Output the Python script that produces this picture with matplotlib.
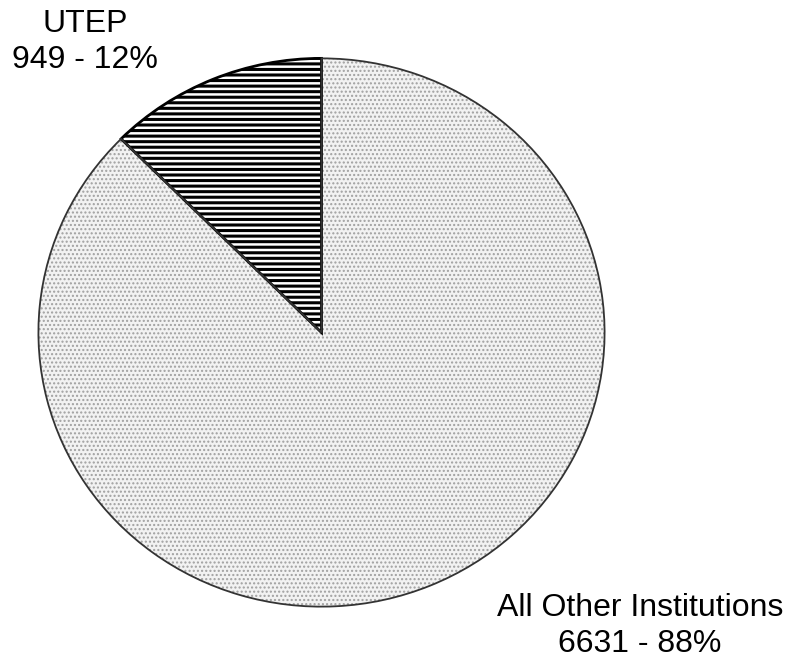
import matplotlib.pyplot as plt

# enrollment share
labels = ['UTEP', 'All Other Institutions']
counts = [949, 6631]
pcts = [12, 88]

plt.rcParams['font.family'] = ['Liberation Sans', 'DejaVu Sans']

fig = plt.figure(figsize=(7.9, 6.6), dpi=100)
ax = fig.add_axes([37 / 790, 52 / 660, 569 / 790, 551 / 660])

# fill layers: hatch colour comes from edgecolor, hatch width read at creation
with plt.rc_context({'hatch.linewidth': 2.2}):
    w1, _ = ax.pie(counts, startangle=90, counterclock=True, colors=['white', 'none'])
w1[0].set_hatch('---')
w1[0].set_edgecolor('black')
w1[0].set_linewidth(0)
w1[1].set_visible(False)

with plt.rc_context({'hatch.linewidth': 1.0}):
    w2, _ = ax.pie(counts, startangle=90, counterclock=True, colors=['none', '#f2f2f2'])
w2[0].set_visible(False)
w2[1].set_hatch('....')
w2[1].set_edgecolor('#a0a0a0')
w2[1].set_linewidth(0)

# outline layer
outl, _ = ax.pie(counts, startangle=90, counterclock=True,
                 wedgeprops=dict(fill=False, edgecolor='#333333', linewidth=1.3))
outl[0].set_edgecolor('black')
outl[0].set_linewidth(2)

ax.set_aspect('auto')
ax.set_xlim(-1.005, 1.005)
ax.set_ylim(-1.005, 1.005)

fig.text(85 / 790, 1 - 42 / 660, '%s\n%d - %d%%' % (labels[0], counts[0], pcts[0]),
         ha='center', va='center', fontsize=23, linespacing=1.25)
fig.text(640 / 790, 1 - 626 / 660, '%s\n%d - %d%%' % (labels[1], counts[1], pcts[1]),
         ha='center', va='center', fontsize=23, linespacing=1.25)

fig.savefig('out.png', dpi=100)
